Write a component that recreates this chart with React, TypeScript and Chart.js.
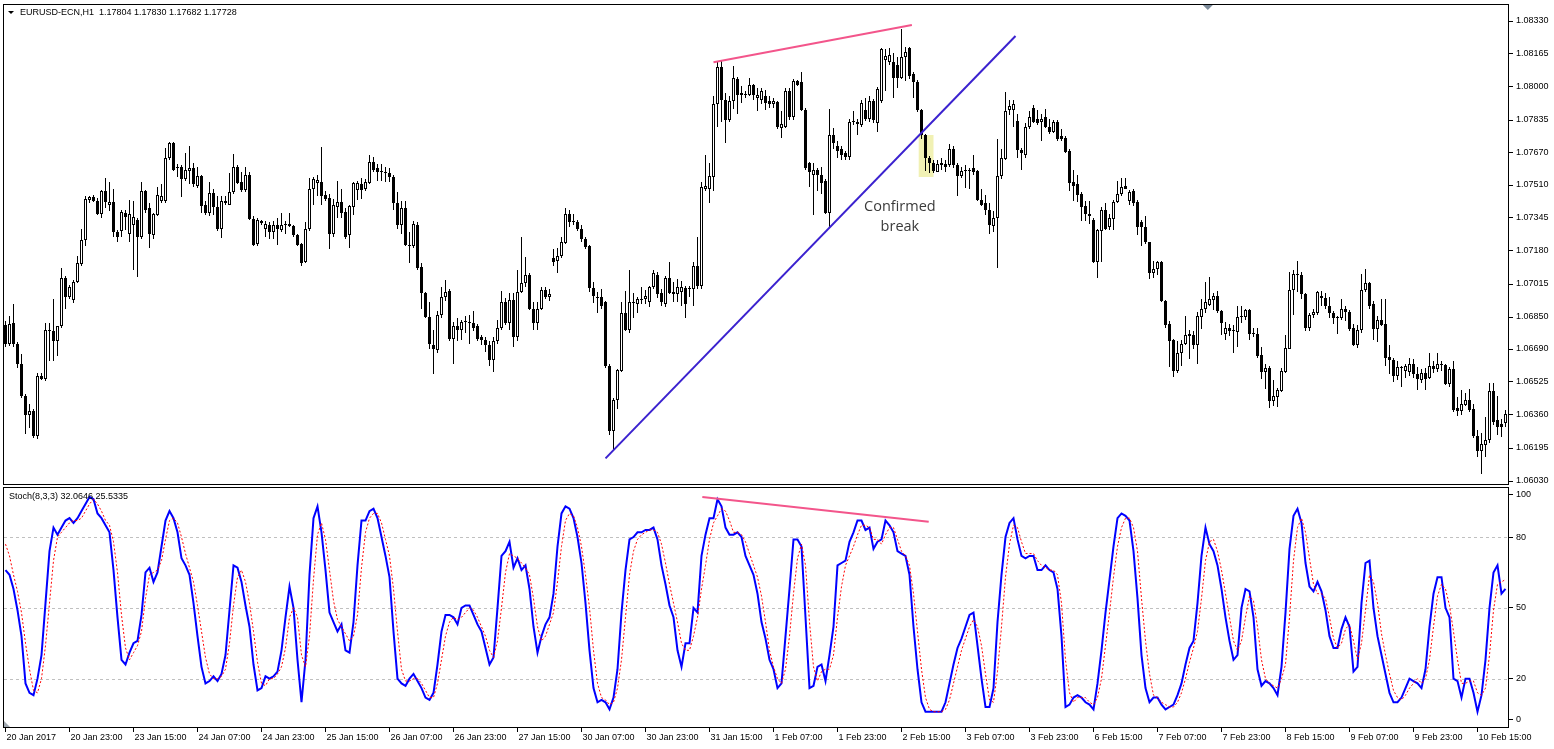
import React, { useEffect, useRef } from "react";
import { Chart, registerables } from "chart.js";

Chart.register(...registerables);

// ---------- EURUSD H1 candles (bar 0 = 20 Jan 2017 07:00) ----------
const OPEN = [
1.06810,1.06715,1.06820,1.06715,1.06615,1.06455,1.06360,1.06380,1.06255,1.06555,
1.06540,1.06785,1.06780,1.06730,1.06805,1.07045,1.06950,1.06935,1.07025,1.07115,
1.07235,1.07435,1.07450,1.07430,1.07365,1.07480,1.07410,1.07425,1.07275,1.07280,
1.07370,1.07265,1.07310,1.07335,1.07250,1.07480,1.07395,1.07260,1.07360,1.07430,
1.07430,1.07645,1.07720,1.07595,1.07600,1.07540,1.07580,1.07595,1.07505,1.07555,
1.07410,1.07370,1.07470,1.07400,1.07290,1.07430,1.07410,1.07475,1.07600,1.07525,
1.07485,1.07560,1.07340,1.07215,1.07330,1.07290,1.07310,1.07275,1.07310,1.07285,
1.07310,1.07315,1.07305,1.07260,1.07215,1.07125,1.07290,1.07490,1.07520,1.07525,
1.07460,1.07445,1.07265,1.07400,1.07425,1.07375,1.07260,1.07400,1.07485,1.07515,
1.07490,1.07520,1.07625,1.07595,1.07575,1.07570,1.07570,1.07550,1.07420,1.07310,
1.07395,1.07210,1.07205,1.07310,1.07100,1.06970,1.06850,1.06710,1.06685,1.06860,
1.06950,1.06980,1.06740,1.06805,1.06785,1.06825,1.06825,1.06820,1.06805,1.06750,
1.06735,1.06710,1.06635,1.06730,1.06795,1.06925,1.06820,1.06935,1.06750,1.06975,
1.07020,1.07060,1.06890,1.06820,1.06890,1.06985,1.06950,1.07145,1.07130,1.07155,
1.07220,1.07365,1.07325,1.07325,1.07290,1.07240,1.07205,1.06995,1.06950,1.06950,
1.06925,1.06605,1.06280,1.06435,1.06580,1.06870,1.06785,1.06920,1.06915,1.06940,
1.06940,1.06925,1.07000,1.07060,1.06970,1.06915,1.07045,1.06965,1.06965,1.06975,
1.06995,1.06990,1.06990,1.07105,1.07005,1.07490,1.07490,1.07550,1.07915,1.08100,
1.07935,1.07835,1.07930,1.08040,1.07960,1.07960,1.07960,1.08010,1.07945,1.07935,
1.07955,1.07930,1.07915,1.07925,1.07795,1.07800,1.07980,1.07850,1.08030,1.08025,
1.07885,1.07620,1.07560,1.07585,1.07560,1.07530,1.07370,1.07760,1.07705,1.07690,
1.07670,1.07650,1.07825,1.07825,1.07810,1.07885,1.07840,1.07930,1.07820,1.07930,
1.08135,1.08125,1.08125,1.08110,1.08045,1.08150,1.08195,1.08065,1.08025,1.07885,
1.07760,1.07645,1.07620,1.07575,1.07610,1.07615,1.07610,1.07690,1.07610,1.07555,
1.07580,1.07580,1.07595,1.07580,1.07435,1.07420,1.07385,1.07305,1.07345,1.07555,
1.07640,1.07885,1.07885,1.07830,1.07685,1.07660,1.07800,1.07895,1.07840,1.07825,
1.07850,1.07800,1.07775,1.07825,1.07755,1.07745,1.07680,1.07525,1.07515,1.07465,
1.07405,1.07355,1.07335,1.07125,1.07280,1.07385,1.07300,1.07340,1.07425,1.07465,
1.07505,1.07430,1.07480,1.07425,1.07325,1.07300,1.07225,1.07070,1.07090,1.07125,
1.06930,1.06815,1.06735,1.06580,1.06670,1.06715,1.06755,1.06760,1.06710,1.06850,
1.06890,1.06910,1.06935,1.06955,1.06880,1.06765,1.06795,1.06780,1.06775,1.06850,
1.06850,1.06885,1.06765,1.06765,1.06660,1.06575,1.06595,1.06430,1.06450,1.06480,
1.06575,1.06690,1.06985,1.07065,1.07060,1.06965,1.06795,1.06860,1.06870,1.06955,
1.06945,1.06905,1.06870,1.06845,1.06845,1.06890,1.06875,1.06795,1.06710,1.06785,
1.06985,1.07020,1.06915,1.06790,1.06835,1.06815,1.06650,1.06635,1.06555,1.06595,
1.06580,1.06575,1.06615,1.06565,1.06535,1.06570,1.06545,1.06605,1.06590,1.06610,
1.06610,1.06515,1.06590,1.06395,1.06380,1.06410,1.06435,1.06390,1.06255,1.06180,
1.06210,1.06235,1.06480,1.06335,1.06315,1.06320,
];

const HIGH = [
1.06830,1.06855,1.06915,1.06725,1.06665,1.06465,1.06415,1.06390,1.06570,1.06570,
1.06820,1.06820,1.06940,1.06805,1.07095,1.07055,1.07010,1.07035,1.07155,1.07290,
1.07455,1.07455,1.07460,1.07445,1.07485,1.07545,1.07525,1.07490,1.07285,1.07385,
1.07385,1.07435,1.07430,1.07345,1.07525,1.07485,1.07420,1.07370,1.07500,1.07515,
1.07695,1.07725,1.07725,1.07615,1.07610,1.07670,1.07705,1.07620,1.07600,1.07560,
1.07430,1.07525,1.07490,1.07455,1.07455,1.07455,1.07570,1.07665,1.07610,1.07575,
1.07600,1.07575,1.07355,1.07345,1.07335,1.07330,1.07325,1.07330,1.07345,1.07370,
1.07330,1.07370,1.07310,1.07265,1.07220,1.07325,1.07545,1.07550,1.07560,1.07700,
1.07480,1.07465,1.07440,1.07530,1.07490,1.07395,1.07410,1.07525,1.07530,1.07545,
1.07540,1.07660,1.07650,1.07615,1.07615,1.07600,1.07595,1.07560,1.07475,1.07430,
1.07430,1.07275,1.07330,1.07325,1.07120,1.06975,1.06925,1.06785,1.06880,1.07000,
1.07035,1.06990,1.06825,1.06845,1.06835,1.06855,1.06860,1.06880,1.06815,1.06760,
1.06750,1.06730,1.06750,1.06835,1.06980,1.06945,1.06970,1.06970,1.07085,1.07250,
1.07150,1.07070,1.06925,1.06925,1.07000,1.07000,1.06990,1.07190,1.07195,1.07250,
1.07395,1.07385,1.07365,1.07335,1.07310,1.07250,1.07210,1.07025,1.06975,1.06990,
1.06930,1.06615,1.06445,1.06590,1.06925,1.06980,1.07085,1.06970,1.06950,1.07000,
1.06985,1.07005,1.07085,1.07075,1.06990,1.07055,1.07125,1.07025,1.07040,1.07030,
1.07005,1.07005,1.07125,1.07250,1.07525,1.07660,1.07620,1.07955,1.08125,1.08130,
1.07970,1.07955,1.08105,1.08050,1.08005,1.07980,1.08045,1.08015,1.07995,1.07995,
1.07985,1.07955,1.07945,1.07930,1.07880,1.07995,1.07995,1.08040,1.08035,1.08075,
1.07895,1.07625,1.07620,1.07595,1.07600,1.07540,1.07890,1.07795,1.07730,1.07705,
1.07680,1.07840,1.07880,1.07840,1.07935,1.07945,1.07955,1.07940,1.08000,1.08195,
1.08190,1.08195,1.08170,1.08150,1.08290,1.08200,1.08200,1.08075,1.08035,1.07890,
1.07765,1.07655,1.07635,1.07635,1.07645,1.07635,1.07715,1.07705,1.07620,1.07600,
1.07610,1.07595,1.07660,1.07585,1.07490,1.07460,1.07420,1.07380,1.07740,1.07690,
1.07975,1.07935,1.07935,1.07865,1.07695,1.07820,1.07880,1.07910,1.07885,1.07865,
1.07890,1.07840,1.07835,1.07835,1.07790,1.07755,1.07690,1.07585,1.07560,1.07475,
1.07430,1.07430,1.07345,1.07290,1.07400,1.07420,1.07365,1.07435,1.07530,1.07545,
1.07545,1.07485,1.07490,1.07435,1.07335,1.07355,1.07225,1.07130,1.07130,1.07130,
1.06935,1.06830,1.06740,1.06730,1.06735,1.06855,1.06785,1.06780,1.06875,1.06940,
1.07025,1.07050,1.06970,1.06980,1.06885,1.06825,1.06815,1.06810,1.06905,1.06905,
1.06890,1.06890,1.06795,1.06795,1.06700,1.06615,1.06605,1.06535,1.06495,1.06595,
1.06760,1.07075,1.07085,1.07130,1.07075,1.06970,1.06870,1.06890,1.06980,1.06980,
1.06970,1.06950,1.06880,1.06855,1.06940,1.06905,1.06885,1.06815,1.06810,1.07065,
1.07090,1.07025,1.06930,1.06855,1.06940,1.06940,1.06710,1.06645,1.06630,1.06605,
1.06615,1.06645,1.06640,1.06600,1.06590,1.06595,1.06670,1.06630,1.06670,1.06630,
1.06615,1.06600,1.06630,1.06450,1.06485,1.06470,1.06490,1.06415,1.06285,1.06270,
1.06350,1.06520,1.06520,1.06455,1.06340,1.06385,
];

const LOW = [
1.06700,1.06705,1.06700,1.06595,1.06445,1.06265,1.06295,1.06245,1.06240,1.06535,
1.06530,1.06630,1.06630,1.06655,1.06795,1.06890,1.06940,1.06920,1.07020,1.07105,
1.07205,1.07420,1.07425,1.07360,1.07345,1.07395,1.07380,1.07250,1.07225,1.07250,
1.07285,1.07225,1.07085,1.07050,1.07240,1.07370,1.07195,1.07240,1.07355,1.07420,
1.07420,1.07635,1.07580,1.07550,1.07450,1.07530,1.07515,1.07500,1.07495,1.07370,
1.07360,1.07355,1.07360,1.07280,1.07245,1.07410,1.07410,1.07465,1.07515,1.07475,
1.07475,1.07335,1.07205,1.07205,1.07310,1.07250,1.07240,1.07240,1.07210,1.07275,
1.07265,1.07300,1.07250,1.07205,1.07105,1.07120,1.07280,1.07410,1.07455,1.07410,
1.07430,1.07190,1.07250,1.07345,1.07345,1.07240,1.07195,1.07360,1.07435,1.07440,
1.07480,1.07515,1.07575,1.07530,1.07530,1.07525,1.07525,1.07385,1.07290,1.07265,
1.07205,1.07120,1.07195,1.07085,1.06890,1.06845,1.06690,1.06565,1.06670,1.06845,
1.06930,1.06730,1.06615,1.06730,1.06735,1.06770,1.06715,1.06780,1.06730,1.06710,
1.06675,1.06605,1.06575,1.06715,1.06785,1.06810,1.06785,1.06700,1.06730,1.06970,
1.07000,1.06885,1.06785,1.06785,1.06885,1.06940,1.06930,1.07105,1.07070,1.07145,
1.07215,1.07300,1.07310,1.07280,1.07225,1.07190,1.06975,1.06920,1.06870,1.06890,
1.06595,1.06260,1.06185,1.06390,1.06575,1.06780,1.06770,1.06845,1.06870,1.06915,
1.06915,1.06900,1.06990,1.06945,1.06905,1.06900,1.06965,1.06925,1.06925,1.06905,
1.06845,1.06950,1.06905,1.06990,1.06990,1.07480,1.07420,1.07480,1.07800,1.07825,
1.07720,1.07825,1.07890,1.07865,1.07920,1.07945,1.07955,1.07935,1.07880,1.07915,
1.07885,1.07895,1.07895,1.07790,1.07745,1.07795,1.07835,1.07835,1.08005,1.07880,
1.07585,1.07500,1.07360,1.07480,1.07465,1.07365,1.07300,1.07690,1.07645,1.07635,
1.07635,1.07635,1.07810,1.07760,1.07800,1.07830,1.07825,1.07820,1.07775,1.07920,
1.07980,1.08110,1.07945,1.07995,1.08040,1.08030,1.08040,1.07945,1.07875,1.07740,
1.07580,1.07570,1.07570,1.07575,1.07585,1.07575,1.07600,1.07595,1.07455,1.07545,
1.07495,1.07490,1.07560,1.07430,1.07405,1.07360,1.07265,1.07275,1.07095,1.07540,
1.07635,1.07860,1.07800,1.07645,1.07585,1.07645,1.07790,1.07820,1.07810,1.07730,
1.07795,1.07765,1.07770,1.07730,1.07730,1.07670,1.07480,1.07430,1.07425,1.07330,
1.07330,1.07315,1.07120,1.07045,1.07125,1.07285,1.07285,1.07285,1.07420,1.07455,
1.07490,1.07410,1.07405,1.07260,1.07205,1.07215,1.07040,1.07045,1.07060,1.06925,
1.06795,1.06600,1.06550,1.06570,1.06605,1.06710,1.06640,1.06690,1.06615,1.06790,
1.06870,1.06905,1.06885,1.06870,1.06760,1.06735,1.06755,1.06670,1.06700,1.06820,
1.06835,1.06735,1.06750,1.06645,1.06540,1.06490,1.06395,1.06405,1.06400,1.06475,
1.06570,1.06690,1.06860,1.06975,1.06940,1.06780,1.06780,1.06845,1.06860,1.06905,
1.06890,1.06845,1.06815,1.06765,1.06835,1.06830,1.06780,1.06705,1.06695,1.06770,
1.06975,1.06890,1.06735,1.06725,1.06805,1.06605,1.06565,1.06525,1.06535,1.06500,
1.06545,1.06555,1.06545,1.06485,1.06520,1.06485,1.06540,1.06570,1.06575,1.06580,
1.06510,1.06500,1.06375,1.06355,1.06360,1.06405,1.06375,1.06245,1.06150,1.06065,
1.06150,1.06220,1.06310,1.06260,1.06250,1.06300,
];

const CLOSE = [
1.06715,1.06815,1.06715,1.06615,1.06455,1.06360,1.06380,1.06255,1.06555,1.06540,
1.06785,1.06780,1.06730,1.06805,1.07045,1.06950,1.07000,1.07025,1.07120,1.07235,
1.07440,1.07450,1.07430,1.07365,1.07480,1.07425,1.07425,1.07275,1.07250,1.07375,
1.07350,1.07365,1.07350,1.07250,1.07480,1.07385,1.07265,1.07365,1.07460,1.07455,
1.07645,1.07720,1.07585,1.07600,1.07540,1.07585,1.07595,1.07515,1.07555,1.07405,
1.07370,1.07470,1.07400,1.07290,1.07430,1.07420,1.07475,1.07600,1.07520,1.07485,
1.07560,1.07340,1.07210,1.07335,1.07320,1.07315,1.07275,1.07310,1.07290,1.07310,
1.07310,1.07305,1.07260,1.07210,1.07120,1.07290,1.07490,1.07540,1.07535,1.07455,
1.07440,1.07265,1.07410,1.07425,1.07370,1.07250,1.07405,1.07520,1.07520,1.07485,
1.07525,1.07625,1.07585,1.07575,1.07575,1.07570,1.07550,1.07420,1.07310,1.07395,
1.07210,1.07205,1.07315,1.07095,1.06970,1.06850,1.06715,1.06690,1.06860,1.06950,
1.06975,1.06740,1.06805,1.06785,1.06825,1.06825,1.06820,1.06795,1.06740,1.06735,
1.06710,1.06635,1.06730,1.06795,1.06925,1.06820,1.06935,1.06750,1.06975,1.07020,
1.07060,1.06890,1.06820,1.06890,1.06985,1.06950,1.06965,1.07125,1.07155,1.07225,
1.07365,1.07325,1.07330,1.07290,1.07240,1.07200,1.06995,1.06955,1.06945,1.06905,
1.06605,1.06280,1.06435,1.06585,1.06870,1.06785,1.06925,1.06925,1.06940,1.06935,
1.06955,1.07000,1.07070,1.06965,1.06925,1.07045,1.06970,1.06975,1.07000,1.07000,
1.06915,1.06995,1.07105,1.07005,1.07500,1.07505,1.07555,1.07915,1.08100,1.07935,
1.07835,1.07930,1.08045,1.07960,1.07970,1.07960,1.08010,1.07960,1.07960,1.07980,
1.07920,1.07915,1.07930,1.07800,1.07815,1.07980,1.07850,1.08030,1.08010,1.07885,
1.07595,1.07575,1.07585,1.07560,1.07520,1.07370,1.07760,1.07720,1.07680,1.07660,
1.07650,1.07825,1.07825,1.07815,1.07920,1.07840,1.07930,1.07835,1.07990,1.08190,
1.08155,1.08160,1.08045,1.08045,1.08150,1.08175,1.08055,1.08025,1.07885,1.07760,
1.07645,1.07620,1.07580,1.07615,1.07620,1.07600,1.07690,1.07610,1.07555,1.07580,
1.07580,1.07585,1.07575,1.07435,1.07410,1.07385,1.07310,1.07345,1.07555,1.07645,
1.07880,1.07905,1.07915,1.07685,1.07670,1.07800,1.07850,1.07825,1.07820,1.07840,
1.07800,1.07775,1.07825,1.07740,1.07740,1.07675,1.07520,1.07505,1.07460,1.07400,
1.07365,1.07365,1.07125,1.07285,1.07385,1.07290,1.07345,1.07425,1.07465,1.07500,
1.07490,1.07475,1.07420,1.07300,1.07300,1.07225,1.07070,1.07090,1.07125,1.06930,
1.06810,1.06730,1.06580,1.06670,1.06715,1.06760,1.06765,1.06710,1.06855,1.06890,
1.06925,1.06940,1.06955,1.06880,1.06820,1.06795,1.06780,1.06785,1.06850,1.06850,
1.06885,1.06765,1.06765,1.06655,1.06575,1.06595,1.06430,1.06455,1.06485,1.06580,
1.06695,1.06985,1.07065,1.07060,1.06965,1.06795,1.06860,1.06875,1.06975,1.06945,
1.06905,1.06870,1.06845,1.06845,1.06890,1.06875,1.06790,1.06710,1.06785,1.06985,
1.07020,1.06905,1.06790,1.06835,1.06810,1.06645,1.06635,1.06555,1.06600,1.06595,
1.06605,1.06615,1.06565,1.06540,1.06570,1.06540,1.06605,1.06590,1.06615,1.06610,
1.06515,1.06590,1.06385,1.06380,1.06415,1.06435,1.06385,1.06255,1.06180,1.06215,
1.06235,1.06480,1.06325,1.06300,1.06300,1.06365,
];

// ---------- Stochastic (8,3,3) ----------
const STOCH_MAIN = [
66,64,58,49,38,18,14,13,20,30,
52,74,84,81,84,87,88,86,88,91,
94,97,96,90,88,85,82,66,46,28,
26,31,35,36,47,65,67,61,65,76,
87,91,88,82,71,68,64,52,38,25,
18,19,21,19,22,30,49,68,67,61,
51,42,26,15,16,21,20,21,23,32,
46,59,50,28,10,28,64,88,93,82,
66,48,44,40,43,32,31,44,68,87,
87,91,92,88,80,72,63,40,20,18,
17,20,22,19,16,12,11,14,26,40,
47,47,46,43,50,51,51,47,43,40,
33,26,29,50,72,74,78,67,71,66,
68,58,42,31,38,43,46,56,76,90,
93,92,88,80,69,52,32,16,10,11,
10,7,12,24,48,66,79,80,82,82,
83,83,84,79,68,60,51,46,32,25,
35,35,50,48,72,81,88,88,96,93,
84,81,81,82,80,72,68,64,56,44,
37,28,24,16,18,38,58,79,79,76,
46,16,17,25,26,19,30,42,68,69,
70,78,82,87,87,83,84,75,78,79,
87,85,82,74,73,72,64,42,24,10,
6,6,6,6,6,10,18,26,33,37,
42,47,48,34,20,8,8,16,44,64,
80,86,88,79,72,71,72,72,66,66,
68,66,65,58,38,8,9,12,13,12,
10,9,7,18,32,48,62,76,88,90,
89,87,74,54,30,16,10,12,12,9,
7,8,9,13,18,26,33,36,52,72,
84,77,74,68,58,46,36,28,30,50,
58,57,46,24,17,19,18,16,13,25,
48,75,89,92,86,69,59,57,61,57,
49,38,33,33,41,46,42,23,25,52,
69,70,50,38,30,22,14,10,10,12,
16,20,19,18,16,24,42,56,63,63,
50,46,20,19,12,20,20,14,6,13,
28,50,65,68,56,58,
];

const STOCH_SIGNAL = [
77,72,64,57,48,35,24,15,14,20,
34,52,70,80,82,84,86,87,87,88,
91,94,96,94,91,87,85,78,65,47,
33,28,31,34,40,54,64,65,66,70,
79,87,88,86,80,73,67,61,51,40,
29,22,20,20,21,24,35,51,63,66,
61,52,40,27,18,17,20,20,22,25,
33,46,50,46,30,25,38,62,81,86,
79,66,53,45,42,39,36,38,47,67,
82,88,90,90,86,79,72,58,40,24,
19,19,20,20,18,15,12,12,18,28,
38,44,46,45,46,48,50,49,46,42,
38,32,29,36,50,65,73,72,71,69,
67,64,54,42,36,38,43,48,61,76,
87,90,89,84,76,64,50,32,18,12,
11,9,10,16,28,46,64,74,79,81,
82,83,83,82,77,69,60,52,44,35,
32,32,38,46,58,68,79,86,89,92,
91,87,82,82,81,78,73,68,63,55,
44,32,25,20,18,24,38,56,71,77,
68,44,25,19,23,24,24,30,46,59,
68,72,76,81,85,85,84,79,79,77,
81,84,84,79,74,72,68,56,40,24,
12,7,6,6,6,7,11,18,25,32,
37,42,45,42,34,22,11,10,23,42,
63,77,85,84,78,73,73,73,70,68,
67,66,66,64,52,28,14,10,12,12,
12,10,9,12,20,34,48,63,76,84,
88,88,84,74,54,36,22,13,12,10,
9,8,8,10,14,20,27,33,40,54,
70,78,79,74,66,56,46,36,32,36,
46,55,53,42,28,20,18,17,16,20,
26,46,70,84,88,82,71,60,56,56,
54,46,37,33,35,41,43,36,28,35,
49,64,61,52,39,30,22,15,12,11,
13,16,18,20,18,20,28,42,55,60,
58,51,40,28,18,18,19,19,14,13,
16,30,49,60,61,62,
];

// ---------- axes ----------
const PRICE_TICKS = [1.0833, 1.08165, 1.08, 1.07835, 1.0767, 1.0751, 1.07345, 1.0718, 1.07015, 1.0685, 1.0669, 1.06525, 1.0636, 1.06195, 1.0603];
const STOCH_TICKS = [100, 80, 50, 20, 0];
const STOCH_LEVELS = [80, 50, 20];
const TIME_TICK_BARS = [0, 16, 32, 48, 64, 80, 96, 112, 128, 144, 160, 176, 192, 208, 224, 240, 256, 272, 288, 304, 320, 336, 352, 368];
const TIME_LABELS = [
  "20 Jan 2017", "20 Jan 23:00", "23 Jan 15:00", "24 Jan 07:00", "24 Jan 23:00", "25 Jan 15:00",
  "26 Jan 07:00", "26 Jan 23:00", "27 Jan 15:00", "30 Jan 07:00", "30 Jan 23:00", "31 Jan 15:00",
  "1 Feb 07:00", "1 Feb 23:00", "2 Feb 15:00", "3 Feb 07:00", "3 Feb 23:00", "6 Feb 15:00",
  "7 Feb 07:00", "7 Feb 23:00", "8 Feb 15:00", "9 Feb 07:00", "9 Feb 23:00", "10 Feb 15:00",
];

// ---------- texts & drawn objects (in bar / price units) ----------
const TITLE = "EURUSD-ECN,H1  1.17804 1.17830 1.17682 1.17728";
const STOCH_TITLE = "Stoch(8,3,3) 32.0646 25.5335";
const TRENDLINE = [{ x: 150.0, y: 1.06143 }, { x: 252.5, y: 1.08255 }];
const PRICE_DIVERGENCE = [{ x: 177.0, y: 1.08124 }, { x: 226.6, y: 1.08310 }];
const STOCH_DIVERGENCE = [{ x: 174.2, y: 97 }, { x: 230.8, y: 86.5 }];
const BREAK_ZONE = { x0: 228.3, x1: 232.0, top: 1.0776, bottom: 1.0755 };
const BREAK_NOTE = { x: 223.6, lines: ["Confirmed", "break"], y: [1.074, 1.073] };

const X_MIN = -0.625;
const X_MAX = 375.875;
const PRICE_MIN = 1.0601;
const PRICE_MAX = 1.08415;
const STOCH_MIN = -0.9;
const STOCH_MAX = 101.2;

const FONT = "'Liberation Sans', Arial, sans-serif";
const AXIS_FONT = { family: FONT, size: 9 };

function noPad(s: any) {
  s.paddingTop = 0;
  s.paddingBottom = 0;
  s.paddingLeft = 0;
  s.paddingRight = 0;
}

function drawFrame(chart: any) {
  const { ctx, chartArea: a } = chart;
  ctx.save();
  ctx.strokeStyle = "#000";
  ctx.lineWidth = 1;
  ctx.setLineDash([]);
  ctx.strokeRect(a.left + 0.5, a.top + 0.5, a.right - a.left - 1, a.bottom - a.top - 1);
  ctx.restore();
}

const priceDecor = {
  id: "priceDecor",
  beforeDatasetsDraw(chart: any) {
    const { ctx, scales } = chart;
    const x = scales.x, y = scales.y;
    const x0 = x.getPixelForValue(BREAK_ZONE.x0);
    const x1 = x.getPixelForValue(BREAK_ZONE.x1);
    const y0 = y.getPixelForValue(BREAK_ZONE.top);
    const y1 = y.getPixelForValue(BREAK_ZONE.bottom);
    ctx.save();
    ctx.fillStyle = "#f1f1b4";
    ctx.fillRect(x0, y0, x1 - x0, y1 - y0);
    ctx.restore();
  },
  afterDatasetsDraw(chart: any) {
    const { ctx, scales } = chart;
    ctx.save();
    ctx.font = "14.5px 'Open Sans', sans-serif";
    ctx.fillStyle = "#3a3a3a";
    ctx.textAlign = "center";
    ctx.textBaseline = "middle";
    BREAK_NOTE.lines.forEach((t, i) => {
      ctx.fillText(t, scales.x.getPixelForValue(BREAK_NOTE.x), scales.y.getPixelForValue(BREAK_NOTE.y[i]));
    });
    ctx.restore();
  },
  afterDraw(chart: any) {
    const { ctx, chartArea: a } = chart;
    drawFrame(chart);
    ctx.save();
    // title
    ctx.fillStyle = "#000";
    ctx.beginPath();
    ctx.moveTo(a.left + 5, a.top + 7);
    ctx.lineTo(a.left + 11, a.top + 7);
    ctx.lineTo(a.left + 8, a.top + 10);
    ctx.closePath();
    ctx.fill();
    ctx.font = `9px ${FONT}`;
    ctx.textBaseline = "middle";
    ctx.textAlign = "left";
    ctx.fillText(TITLE, a.left + 17, a.top + 8.5);
    // chart shift marker
    const mx = a.left + (a.right - a.left) * 0.8;
    ctx.fillStyle = "#7b8a99";
    ctx.beginPath();
    ctx.moveTo(mx - 5, a.top + 1);
    ctx.lineTo(mx + 5, a.top + 1);
    ctx.lineTo(mx, a.top + 6);
    ctx.closePath();
    ctx.fill();
    ctx.restore();
  },
};

const stochDecor = {
  id: "stochDecor",
  beforeDatasetsDraw(chart: any) {
    const { ctx, chartArea: a, scales } = chart;
    ctx.save();
    ctx.strokeStyle = "#c0c0c0";
    ctx.lineWidth = 1;
    ctx.setLineDash([3, 3]);
    STOCH_LEVELS.forEach((v) => {
      const py = Math.round(scales.y.getPixelForValue(v)) + 0.5;
      ctx.beginPath();
      ctx.moveTo(a.left + 1, py);
      ctx.lineTo(a.right - 1, py);
      ctx.stroke();
    });
    ctx.restore();
  },
  afterDraw(chart: any) {
    const { ctx, chartArea: a } = chart;
    drawFrame(chart);
    ctx.save();
    ctx.fillStyle = "#000";
    ctx.font = `9px ${FONT}`;
    ctx.textBaseline = "middle";
    ctx.textAlign = "left";
    ctx.fillText(STOCH_TITLE, a.left + 6, a.top + 9.5);
    ctx.fillStyle = "#a0a8b0";
    ctx.beginPath();
    ctx.moveTo(a.left + 1, a.bottom - 7);
    ctx.lineTo(a.left + 1, a.bottom - 1);
    ctx.lineTo(a.left + 7, a.bottom - 1);
    ctx.closePath();
    ctx.fill();
    ctx.restore();
  },
};

export default function App() {
  const priceRef = useRef<HTMLCanvasElement>(null);
  const stochRef = useRef<HTMLCanvasElement>(null);

  useEffect(() => {
    const idx = OPEN.map((_, i) => i);
    const wickData = idx.map((i) => ({ x: i, y: [LOW[i], HIGH[i]] }));
    const bodyData = idx.map((i) => ({ x: i, y: [Math.min(OPEN[i], CLOSE[i]), Math.max(OPEN[i], CLOSE[i])] }));
    const bodyColors = idx.map((i) => (CLOSE[i] >= OPEN[i] ? "#ffffff" : "#000000"));

    const priceChart = new Chart(priceRef.current as HTMLCanvasElement, {
      type: "bar",
      data: {
        datasets: [
          {
            type: "line",
            label: "trend",
            data: TRENDLINE,
            borderColor: "#3b22cf",
            borderWidth: 2,
            pointRadius: 0,
            order: 0,
          } as any,
          {
            type: "line",
            label: "divergence",
            data: PRICE_DIVERGENCE,
            borderColor: "#f3558b",
            borderWidth: 2,
            pointRadius: 0,
            order: 0,
          } as any,
          {
            type: "bar",
            label: "body",
            data: bodyData,
            backgroundColor: bodyColors,
            borderColor: "#000",
            borderWidth: 1,
            borderSkipped: false,
            barThickness: 3,
            minBarLength: 1,
            grouped: false,
            inflateAmount: 0,
            order: 1,
          } as any,
          {
            type: "bar",
            label: "wick",
            data: wickData,
            backgroundColor: "#000",
            borderWidth: 0,
            barThickness: 1,
            minBarLength: 1,
            grouped: false,
            inflateAmount: 0,
            order: 2,
          } as any,
        ],
      },
      options: {
        animation: false,
        responsive: false,
        devicePixelRatio: 1,
        events: [],
        layout: { padding: { left: 3, top: 4, right: 0, bottom: 1 }, autoPadding: false },
        plugins: { legend: { display: false }, tooltip: { enabled: false } },
        scales: {
          x: {
            type: "linear",
            min: X_MIN,
            max: X_MAX,
            offset: false,
            display: false,
            grid: { offset: false },
          },
          y: {
            type: "linear",
            position: "right",
            min: PRICE_MIN,
            max: PRICE_MAX,
            beginAtZero: false,
            afterBuildTicks: (s: any) => {
              s.ticks = PRICE_TICKS.map((v) => ({ value: v }));
            },
            afterFit: (s: any) => {
              s.width = 45;
              noPad(s);
            },
            ticks: {
              autoSkip: false,
              padding: 3,
              color: "#000",
              font: AXIS_FONT,
              callback: (v: any) => Number(v).toFixed(5),
            },
            grid: { drawOnChartArea: false, drawTicks: true, tickLength: 4, color: "#000" },
            border: { display: false },
          },
        },
      } as any,
      plugins: [priceDecor],
    });

    const stochChart = new Chart(stochRef.current as HTMLCanvasElement, {
      type: "line",
      data: {
        datasets: [
          {
            label: "divergence",
            data: STOCH_DIVERGENCE,
            borderColor: "#f3558b",
            borderWidth: 2,
            pointRadius: 0,
            order: 0,
          },
          {
            label: "signal",
            data: STOCH_SIGNAL.map((v, i) => ({ x: i, y: v })),
            borderColor: "#ff0000",
            borderWidth: 1,
            borderDash: [2, 2],
            pointRadius: 0,
            order: 1,
          },
          {
            label: "main",
            data: STOCH_MAIN.map((v, i) => ({ x: i, y: v })),
            borderColor: "#0000ff",
            borderWidth: 2,
            pointRadius: 0,
            order: 2,
          },
        ],
      },
      options: {
        animation: false,
        responsive: false,
        devicePixelRatio: 1,
        events: [],
        layout: { padding: { left: 3, top: 1, right: 0, bottom: 0 }, autoPadding: false },
        plugins: { legend: { display: false }, tooltip: { enabled: false } },
        scales: {
          x: {
            type: "linear",
            position: "bottom",
            min: X_MIN,
            max: X_MAX,
            offset: false,
            afterBuildTicks: (s: any) => {
              s.ticks = TIME_TICK_BARS.map((v) => ({ value: v }));
            },
            afterFit: (s: any) => {
              s.height = 21;
              noPad(s);
            },
            ticks: {
              autoSkip: false,
              maxRotation: 0,
              minRotation: 0,
              align: "start",
              padding: 0,
              labelOffset: 1,
              color: "#000",
              font: AXIS_FONT,
              callback: (_v: any, i: number) => TIME_LABELS[i],
            },
            grid: { drawOnChartArea: false, drawTicks: true, tickLength: 4, color: "#000", offset: false },
            border: { display: false },
          },
          y: {
            type: "linear",
            position: "right",
            min: STOCH_MIN,
            max: STOCH_MAX,
            afterBuildTicks: (s: any) => {
              s.ticks = STOCH_TICKS.map((v) => ({ value: Math.min(Math.max(v, STOCH_MIN + 3.8), STOCH_MAX - 3) }));
            },
            afterFit: (s: any) => {
              s.width = 45;
              noPad(s);
            },
            ticks: {
              autoSkip: false,
              padding: 3,
              color: "#000",
              font: AXIS_FONT,
              callback: (_v: any, i: number) => String(STOCH_TICKS[i]),
            },
            grid: { drawOnChartArea: false, drawTicks: true, tickLength: 4, color: "#000" },
            border: { display: false },
          },
        },
      } as any,
      plugins: [stochDecor],
    });

    return () => {
      priceChart.destroy();
      stochChart.destroy();
    };
  }, []);

  return (
    <div style={{ position: "fixed", left: 0, top: 0, width: 1554, height: 749, background: "#fff", overflow: "hidden" }}>
      <canvas ref={priceRef} width={1554} height={486} style={{ position: "absolute", left: 0, top: 0, width: 1554, height: 486 }} />
      <canvas ref={stochRef} width={1554} height={263} style={{ position: "absolute", left: 0, top: 486, width: 1554, height: 263 }} />
    </div>
  );
}
